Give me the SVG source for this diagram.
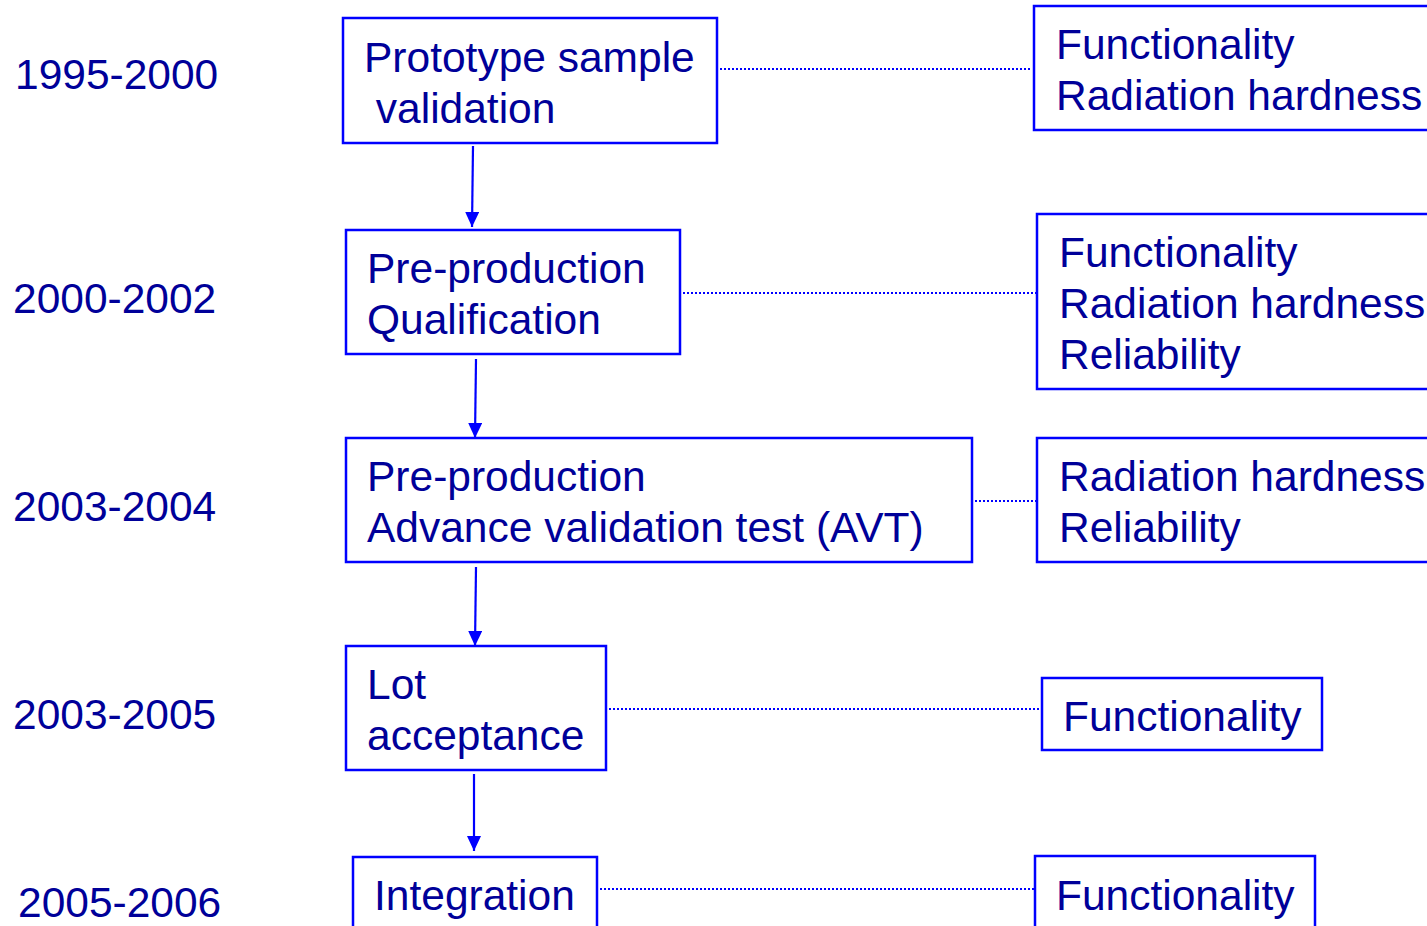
<svg xmlns="http://www.w3.org/2000/svg" width="1427" height="926" viewBox="0 0 1427 926">
<style>
.box{fill:#fff;stroke:#0000ff;stroke-width:2.5}
.t{font-family:"Liberation Sans",Arial,sans-serif;font-size:42.5px;fill:#000099}
.dot{stroke:#0000ff;stroke-width:2.2;stroke-dasharray:2 2;fill:none}
.arr{stroke:#0000ff;stroke-width:2.2;fill:none;marker-end:url(#ah)}
</style>
<defs>
<marker id="ah" viewBox="0 0 15 14" refX="15" refY="7" markerWidth="15" markerHeight="14" markerUnits="userSpaceOnUse" orient="auto">
<path d="M0,0 L15,7 L0,14 z" fill="#0000ff"/>
</marker>
</defs>
<rect width="1427" height="926" fill="#fff"/>
<g id="years">
<text class="t" x="15" y="89">1995-2000</text>
<text class="t" x="13" y="313">2000-2002</text>
<text class="t" x="13" y="521">2003-2004</text>
<text class="t" x="13" y="729">2003-2005</text>
<text class="t" x="18" y="917">2005-2006</text>
</g>
<g id="connectors">
<line class="dot" x1="720" y1="69" x2="1032" y2="69"/>
<line class="dot" x1="683" y1="293" x2="1036" y2="293"/>
<line class="dot" x1="975" y1="501" x2="1038" y2="501"/>
<line class="dot" x1="609" y1="709" x2="1041" y2="709"/>
<line class="dot" x1="600" y1="889" x2="1034" y2="889"/>
<line class="arr" x1="473" y1="146" x2="472" y2="227"/>
<line class="arr" x1="476" y1="359" x2="475" y2="438"/>
<line class="arr" x1="476" y1="567" x2="475" y2="646"/>
<line class="arr" x1="474" y1="774" x2="474" y2="851"/>
</g>
<g id="n1">
<rect class="box" x="343" y="18" width="374" height="125"/>
<text class="t" x="364" y="72">Prototype sample</text>
<text class="t" x="364" y="123" xml:space="preserve"> validation</text>
</g>
<g id="r1">
<rect class="box" x="1034" y="6" width="420" height="124"/>
<text class="t" x="1056" y="59">Functionality</text>
<text class="t" x="1056" y="110">Radiation hardness</text>
</g>
<g id="n2">
<rect class="box" x="346" y="230" width="334" height="124"/>
<text class="t" x="367" y="283">Pre-production</text>
<text class="t" x="367" y="334">Qualification</text>
</g>
<g id="r2">
<rect class="box" x="1037" y="214" width="420" height="175"/>
<text class="t" x="1059" y="267">Functionality</text>
<text class="t" x="1059" y="318">Radiation hardness</text>
<text class="t" x="1059" y="369">Reliability</text>
</g>
<g id="n3">
<rect class="box" x="346" y="438" width="626" height="124"/>
<text class="t" x="367" y="491">Pre-production</text>
<text class="t" x="367" y="542">Advance validation test (AVT)</text>
</g>
<g id="r3">
<rect class="box" x="1037" y="438" width="420" height="124"/>
<text class="t" x="1059" y="491">Radiation hardness</text>
<text class="t" x="1059" y="542">Reliability</text>
</g>
<g id="n4">
<rect class="box" x="346" y="646" width="260" height="124"/>
<text class="t" x="367" y="699">Lot</text>
<text class="t" x="367" y="750">acceptance</text>
</g>
<g id="r4">
<rect class="box" x="1042" y="678" width="280" height="72"/>
<text class="t" x="1063" y="731">Functionality</text>
</g>
<g id="n5">
<rect class="box" x="353" y="857" width="244" height="100"/>
<text class="t" x="374" y="910">Integration</text>
</g>
<g id="r5">
<rect class="box" x="1035" y="856" width="280" height="100"/>
<text class="t" x="1056" y="910">Functionality</text>
</g>
</svg>
